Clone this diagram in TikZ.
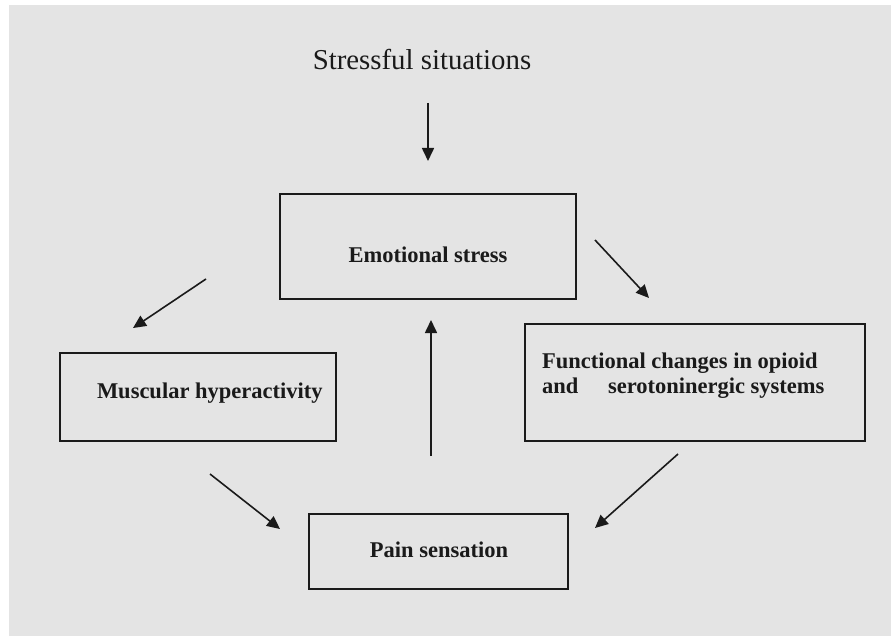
\documentclass[tikz,border=0pt]{standalone}
\usepackage{fontspec}
\setmainfont{Liberation Serif}
\usetikzlibrary{arrows.meta}
\definecolor{bggrey}{HTML}{E4E4E4}
\definecolor{ink}{HTML}{1A1A1A}
\tikzset{
  box/.style={draw=ink, line width=1.3pt, inner sep=0pt, outer sep=0pt},
  boxtext/.style={inner sep=0pt, outer sep=0pt, font=\fontsize{22.5}{26}\selectfont\bfseries, text=ink},
  toptext/.style={inner sep=0pt, outer sep=0pt, font=\fontsize{28.8}{33}\selectfont, text=ink},
  arr/.style={draw=ink, line width=1.6pt, -{Triangle[length=13pt,width=12pt]}}
}
\begin{document}
\begin{tikzpicture}[x=1pt,y=-1pt]
\useasboundingbox (0,0) rectangle (891,636);
\fill[white] (0,0) rectangle (891,636);
\fill[bggrey] (9,5) rectangle (891,636);

% title
\node[toptext, anchor=base] (stress) at (422,70) {Stressful situations};

% boxes
\node[box, minimum width=296pt, minimum height=105pt] (emo) at (428,246.5) {};
\node[boxtext, anchor=base] (emot) at (428,263) {Emotional stress};

\node[box, minimum width=276pt, minimum height=88pt] (mus) at (198,397) {};
\node[boxtext, anchor=base west] (must) at (97,398) {Muscular hyperactivity};

\node[box, minimum width=340pt, minimum height=117pt] (fun) at (695,382.5) {};
\node[boxtext, anchor=base west] (funa) at (542,368) {Functional changes in opioid};
\node[boxtext, anchor=base west] (funb) at (542,393) {and};
\node[boxtext, anchor=base west] (func) at (608,393) {serotoninergic systems};

\node[box, minimum width=259pt, minimum height=75pt] (pain) at (438.5,551.5) {};
\node[boxtext, anchor=base] (paint) at (439,557) {Pain sensation};

% arrow end points
\coordinate (a1s) at (428,103); \coordinate (a1e) at (428,161);
\coordinate (a2s) at (595,240); \coordinate (a2e) at (649,298);
\coordinate (a3s) at (206,279); \coordinate (a3e) at (133,328);
\coordinate (a4s) at (431,456); \coordinate (a4e) at (431,320);
\coordinate (a5s) at (210,474); \coordinate (a5e) at (280,529);
\coordinate (a6s) at (678,454); \coordinate (a6e) at (595,528);

\draw[arr] (a1s) -- (a1e);
\draw[arr] (a2s) -- (a2e);
\draw[arr] (a3s) -- (a3e);
\draw[arr] (a4s) -- (a4e);
\draw[arr] (a5s) -- (a5e);
\draw[arr] (a6s) -- (a6e);
\end{tikzpicture}
\end{document}
